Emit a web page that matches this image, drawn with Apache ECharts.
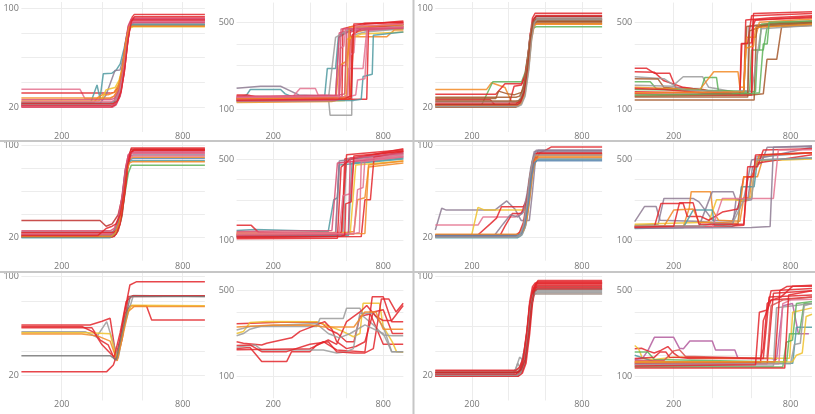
<!DOCTYPE html>
<html><head><meta charset="utf-8">
<script src="https://cdn.jsdelivr.net/npm/echarts@6/dist/echarts.min.js"></script>
<style>html,body{margin:0;padding:0;background:#fff}#c{width:815px;height:414px}</style>
</head><body><div id="c"></div>
<script>
// ---- tick labels ----
const xTickLabels = [200, 800];
const yTickLabelsLow = [20, 100];
const yTickLabelsHigh = [100, 500];

// ---- row 1 ----
const r1a = [
 [[0,21],[450,21],[470,23],[490,30],[510,48],[525,70],[540,88],[550,93],[560,95],[910,95]],
 [[0,34.6],[290,34.6],[315,27],[440,27],[460,29],[480,34],[500,45],[515,62],[530,80],[545,87],[560,88],[910,88]],
 [[0,31.4],[440,31.4],[460,32],[480,36],[500,47],[515,65],[530,82],[545,90],[560,91],[910,91]],
 [[0,22],[340,22],[375,38],[390,27],[406,47],[449,47.5],[470,50],[490,55],[510,68],[525,80],[540,86],[555,87],[910,87]],
 [[0,23],[390,23],[420,30],[464,49.6],[489,50],[505,60],[520,74],[535,85],[550,89],[910,89]],
 [[0,24],[360,24],[380,28],[400,30],[430,30],[460,32],[480,38],[500,50],[518,70],[535,84],[555,86],[910,86]],
 [[0,25],[380,25],[400,27],[420,34],[440,35],[465,36],[485,42],[505,55],[520,72],[538,84],[555,85],[910,85]],
 [[0,20],[450,20],[470,22],[490,29],[510,48],[525,70],[540,87],[555,92],[910,92]],
 [[0,20.5],[445,20.5],[465,22],[485,28],[505,45],[520,66],[535,84],[550,90],[910,90]],
 [[0,21],[440,21],[460,23],[480,30],[500,47],[515,68],[530,84],[545,89],[910,89]],
 [[0,21.5],[450,21.5],[470,23],[490,30],[510,50],[525,72],[540,86],[555,88.5],[910,88.5]],
 [[0,22],[440,22],[460,24],[480,31],[500,49],[515,70],[530,85],[545,90.5],[910,90.5]],
 [[0,22.5],[445,22.5],[465,24],[485,31],[505,50],[520,71],[535,84],[550,87],[910,87]],
 [[0,23.5],[440,23.5],[460,25],[480,32],[500,50],[517,72],[532,84],[548,86.5],[910,86.5]],
 [[0,24.5],[445,24.5],[465,26],[485,33],[505,52],[520,73],[535,86],[550,89.5],[910,89.5]],
 [[0,26],[440,26],[460,27],[480,33],[500,50],[515,71],[530,86],[545,91.5],[910,91.5]],
 [[0,27.5],[440,27.5],[460,29],[480,35],[500,52],[518,73],[535,85],[550,85.5],[910,85.5]],
 [[0,23],[455,23],[475,25],[495,33],[515,55],[530,76],[545,89],[560,93],[910,93]]
];
const r1b = [
 [[0,196],[130,205],[240,205],[290,185],[340,165],[480,160],[540,158],[560,440],[640,470],[910,490]],
 [[0,150],[55,165],[75,190],[240,190],[265,170],[300,158],[480,155],[495,287],[540,287],[555,430],[620,460],[910,470]],
 [[0,145],[300,150],[346,195],[430,195],[445,165],[560,160],[575,300],[600,300],[610,450],[700,480],[910,485]],
 [[0,140],[450,142],[500,160],[510,72],[628,72],[632,440],[700,455],[910,470]],
 [[0,165],[60,165],[100,157],[500,155],[615,155],[620,464],[700,490],[910,505]],
 [[0,160],[550,150],[575,150],[580,470],[700,495],[910,500]],
 [[0,130],[520,135],[540,140],[560,300],[600,320],[620,433],[820,433],[860,464],[910,464]],
 [[0,134],[560,138],[590,140],[600,420],[680,445],[910,455]],
 [[0,148],[580,150],[600,150],[610,287],[690,287],[710,460],[910,475]],
 [[0,155],[520,160],[540,160],[560,450],[650,475],[910,480]],
 [[0,142],[690,145],[710,145],[720,480],[910,495]],
 [[0,138],[640,140],[680,145],[690,250],[740,260],[746,440],[910,455]],
 [[0,152],[600,155],[650,165],[660,234],[700,240],[715,470],[910,480]],
 [[0,145],[620,148],[640,450],[720,470],[910,480]],
 [[0,135],[500,140],[540,430],[620,470],[910,485]],
 [[0,150],[600,152],[625,160],[630,440],[680,470],[910,490]],
 [[0,158],[560,165],[590,170],[600,455],[700,465],[910,475]],
 [[0,143],[530,146],[555,150],[565,380],[585,390],[595,470],[910,478]],
 [[0,147],[580,152],[600,160],[615,478],[910,488]],
 [[0,137],[540,140],[560,145],[570,468],[910,472]],
 [[0,153],[590,158],[605,165],[620,350],[640,360],[650,482],[910,492]],
 [[0,141],[610,146],[625,150],[640,492],[910,500]]
];
const r1c = [
 [[0,21],[440,21],[460,23],[480,30],[500,50],[515,75],[530,92],[545,96],[910,96]],
 [[0,34.4],[280,34.4],[307,39.8],[380,36],[417,24],[450,24],[470,27],[490,36],[505,55],[520,76],[535,86],[550,87],[910,87]],
 [[0,22],[253,22],[314,40.6],[471,40.6],[490,48],[505,62],[520,78],[535,84],[550,85],[910,85]],
 [[0,30.4],[330,30.4],[380,39],[471,39],[490,46],[505,62],[520,80],[535,89],[550,91],[910,91]],
 [[0,26],[300,26],[330,21],[400,21],[430,37],[470,38],[490,45],[505,60],[520,80],[535,90],[550,93],[910,93]],
 [[0,27],[330,27],[345,33],[390,31],[430,30],[470,32],[490,42],[505,58],[520,78],[535,88],[550,89],[910,89]],
 [[0,20],[440,20],[460,22],[480,29],[500,48],[515,72],[530,88],[545,90],[910,90]],
 [[0,21],[445,21],[465,23],[485,30],[505,50],[520,74],[535,89],[550,92],[910,92]],
 [[0,22.5],[440,22.5],[460,25],[480,33],[500,52],[515,74],[530,87],[545,88],[910,88]],
 [[0,23.5],[445,23.5],[465,25],[485,32],[505,52],[520,75],[535,90],[550,94],[910,94]],
 [[0,24.5],[440,24.5],[460,26],[480,34],[500,53],[515,75],[530,88],[545,90.5],[910,90.5]],
 [[0,25],[450,25],[470,27],[490,35],[510,56],[525,78],[540,88],[555,89.5],[910,89.5]],
 [[0,21.5],[450,21.5],[470,23],[490,31],[510,52],[525,75],[540,86],[555,87.5],[910,87.5]],
 [[0,22],[445,22],[465,24],[485,32],[505,52],[520,76],[535,91],[550,93.5],[910,93.5]],
 [[0,28],[440,28],[460,29],[480,35],[500,52],[518,75],[533,88],[548,91],[910,91]],
 [[0,20.5],[450,20.5],[470,22],[490,29],[510,50],[525,74],[540,88],[555,91],[910,91]]
];
const r1d = [
 [[0,288],[60,288],[100,265],[180,265],[210,200],[350,190],[400,180],[540,175],[550,400],[600,405],[610,540],[910,548]],
 [[0,272],[100,270],[150,230],[250,200],[400,180],[520,178],[560,180],[570,510],[700,520],[910,530]],
 [[0,249],[150,240],[200,210],[249,249],[348,249],[380,200],[560,170],[580,170],[585,480],[910,500]],
 [[0,240],[120,238],[150,200],[300,185],[560,180],[575,480],[700,495],[910,505]],
 [[0,226],[80,226],[110,195],[340,190],[360,245],[420,245],[430,180],[560,175],[590,180],[600,372],[640,372],[650,490],[910,500]],
 [[0,200],[300,190],[330,185],[406,272],[530,272],[540,200],[560,200],[575,430],[620,430],[640,500],[910,515]],
 [[0,142],[613,142],[625,479],[700,490],[910,500]],
 [[0,160],[600,165],[660,170],[679,329],[729,329],[754,479],[910,485]],
 [[0,180],[300,175],[500,170],[540,168],[547,402],[580,402],[600,530],[910,540]],
 [[0,190],[400,185],[560,182],[620,180],[630,372],[660,372],[680,480],[910,490]],
 [[0,210],[200,205],[260,188],[500,178],[560,185],[600,180],[650,470],[910,485]],
 [[0,170],[560,165],[600,165],[610,510],[910,520]],
 [[0,155],[580,155],[590,460],[650,480],[910,495]],
 [[0,195],[150,190],[350,175],[580,170],[600,170],[605,480],[620,510],[910,525]],
 [[0,175],[450,178],[560,180],[570,380],[610,390],[620,475],[910,490]],
 [[0,165],[500,170],[600,172],[640,175],[660,400],[680,400],[690,500],[910,505]]
];

// ---- row 2 ----
const r2a = [
 [[0,35],[390,35],[420,30],[450,32],[480,40],[500,55],[515,75],[530,90],[545,97],[910,97]],
 [[0,21],[460,21],[480,26],[500,40],[515,65],[530,88],[545,98],[910,98]],
 [[0,22],[440,22],[460,25],[480,34],[500,55],[515,78],[530,90],[545,93],[910,93]],
 [[0,23],[450,23],[470,26],[490,36],[510,58],[525,80],[540,88],[555,89],[910,89]],
 [[0,24],[445,24],[465,27],[485,38],[505,60],[520,80],[535,88],[550,90],[910,90]],
 [[0,21.5],[455,21.5],[475,25],[495,36],[515,60],[530,76],[545,83],[910,83]],
 [[0,22.5],[440,22.5],[460,25],[480,34],[500,56],[515,79],[530,92],[545,95],[910,95]],
 [[0,25],[450,25],[470,28],[490,38],[510,60],[525,81],[540,91],[555,92],[910,92]],
 [[0,20.5],[450,20.5],[470,23],[490,32],[510,55],[525,80],[540,93],[555,96],[910,96]],
 [[0,23.5],[445,23.5],[465,26],[485,35],[505,57],[520,80],[535,89],[550,91],[910,91]],
 [[0,20],[440,20],[460,23],[480,32],[500,54],[515,77],[530,86],[545,87],[910,87]],
 [[0,24.5],[455,24.5],[475,27],[495,38],[515,62],[530,84],[545,94],[560,97],[910,97]],
 [[0,21],[445,21],[465,24],[485,33],[505,55],[520,76],[535,85],[550,86],[910,86]],
 [[0,26],[440,26],[460,28],[480,37],[500,57],[515,79],[530,92],[545,94],[910,94]],
 [[0,22],[380,22],[420,28],[450,30],[470,32],[490,40],[510,60],[525,82],[540,94],[555,96],[910,96]]
];
const r2b = [
 [[0,130],[520,135],[540,140],[560,480],[910,520]],
 [[0,125],[560,128],[575,130],[590,500],[910,540]],
 [[0,150],[100,155],[300,150],[500,145],[530,300],[550,310],[560,470],[910,500]],
 [[0,140],[600,140],[640,145],[660,300],[700,310],[720,460],[910,480]],
 [[0,120],[580,125],[600,500],[910,520]],
 [[0,118],[540,120],[560,490],[910,530]],
 [[0,135],[620,140],[650,470],[910,490]],
 [[0,175],[80,175],[120,140],[570,138],[600,520],[910,545]],
 [[0,128],[640,132],[660,350],[690,360],[700,500],[910,525]],
 [[0,122],[610,125],[630,480],[910,505]],
 [[0,115],[680,120],[700,300],[730,300],[750,510],[910,535]],
 [[0,138],[560,140],[580,320],[620,330],[640,495],[910,515]],
 [[0,132],[700,135],[720,470],[910,490]],
 [[0,145],[520,150],[550,480],[910,510]],
 [[0,110],[550,112],[570,460],[620,500],[910,550]],
 [[0,127],[590,130],[610,135],[620,505],[910,528]],
 [[0,133],[650,136],[670,140],[680,485],[910,512]],
 [[0,119],[570,122],[590,126],[595,280],[625,290],[640,515],[910,538]]
];
const r2c = [
 [[0,26.7],[35,45.6],[60,44],[325,44],[390,52],[434,45],[468,35],[513,35],[530,60],[545,85],[560,96],[910,96]],
 [[0,31],[233,31],[260,38],[434,38],[470,42],[500,55],[520,75],[540,88],[560,92],[910,92]],
 [[0,22],[198,22],[233,46.4],[270,44],[489,44],[505,55],[520,72],[540,88],[560,93],[910,93]],
 [[0,21],[223,21],[300,32],[334,37],[361,47],[480,47],[500,52],[520,70],[540,85],[570,94],[600,96],[634,99],[910,99]],
 [[0,21],[350,21],[380,30],[420,41],[470,41],[495,50],[515,68],[535,86],[555,94],[910,94]],
 [[0,21.5],[320,21.5],[370,32],[410,40],[450,38],[480,42],[500,58],[520,80],[540,95],[910,95]],
 [[0,22.5],[440,22.5],[460,24],[480,30],[500,48],[515,70],[530,85],[545,91],[910,91]],
 [[0,20],[450,20],[470,22],[490,29],[510,50],[525,72],[540,84],[555,88],[910,88]],
 [[0,21],[455,21],[475,23],[495,31],[515,53],[530,75],[545,86],[560,89],[910,89]],
 [[0,22],[440,22],[460,25],[480,33],[500,52],[515,72],[530,86],[545,93],[910,93]],
 [[0,23],[460,23],[480,26],[500,36],[518,58],[533,78],[548,88],[565,90],[910,90]],
 [[0,21],[445,21],[465,23],[485,31],[505,52],[520,75],[535,90],[550,96],[910,96]],
 [[0,22],[450,22],[470,24],[490,32],[510,53],[525,74],[540,85],[555,87],[910,87]],
 [[0,20.5],[440,20.5],[460,22],[480,30],[500,50],[515,73],[530,87],[545,92],[910,92]]
];
const r2d = [
 [[0,193],[50,267],[110,267],[130,200],[300,195],[400,190],[505,185],[520,300],[560,305],[600,495],[910,557]],
 [[0,175],[120,180],[150,307],[300,307],[330,290],[400,200],[500,195],[540,290],[600,300],[620,510],[910,530]],
 [[0,170],[250,170],[280,260],[290,340],[389,340],[400,250],[430,200],[540,195],[560,310],[590,310],[600,413],[630,413],[663,519],[910,530]],
 [[0,165],[330,170],[398,340],[505,340],[520,300],[580,300],[605,462],[650,480],[680,557],[910,560]],
 [[0,180],[380,190],[420,300],[514,300],[540,295],[580,300],[600,320],[620,490],[910,500]],
 [[0,165],[100,165],[135,282],[249,282],[270,218],[340,218],[380,200],[450,240],[530,255],[560,413],[600,413],[630,480],[910,520]],
 [[0,160],[250,165],[300,250],[398,250],[410,175],[500,170],[530,180],[547,364],[613,364],[630,495],[910,505]],
 [[0,170],[150,170],[200,250],[300,255],[330,190],[530,185],[560,413],[605,413],[640,519],[910,530]],
 [[0,168],[500,172],[560,175],[580,462],[630,462],[660,544],[910,550]],
 [[0,163],[400,167],[450,307],[712,307],[737,544],[910,545]],
 [[0,161],[600,165],[695,169],[712,557],[910,565]],
 [[0,172],[350,172],[400,185],[500,180],[560,300],[600,305],[620,495],[910,505]],
 [[0,166],[200,170],[230,285],[300,285],[330,180],[560,180],[580,413],[610,413],[620,519],[910,530]]
];

// ---- row 3 ----
const r3a = [
 [[0,23.3],[423,23.3],[456,28.7],[480,40],[510,70],[538,93.3],[572,96],[910,96]],
 [[0,61],[340,61],[400,64],[440,66.4],[472,32.7],[500,50],[530,84],[910,84.4]],
 [[0,58.8],[349,58.8],[391,48.8],[430,45],[464,32.7],[490,50],[515,70],[540,76.6],[620,76.6],[646,65],[910,65]],
 [[0,55.6],[316,55.6],[373,51.3],[423,63.7],[480,34],[510,60],[555,84.8],[910,83.9]],
 [[0,54.8],[330,54.8],[440,54],[470,35],[490,45],[520,70],[548,77],[910,76.6]],
 [[0,53.7],[300,53.7],[380,52],[440,48],[475,32],[500,50],[530,72],[560,76],[910,76]],
 [[0,59.8],[300,59.8],[360,55],[400,45],[460,35],[490,55],[520,80],[550,84.6],[910,84.6]],
 [[0,36.2],[440,36.2],[470,32.7],[500,55],[540,84],[910,84]]
];
const r3b = [
 [[0,345],[160,350],[240,352],[437,352],[470,345],[500,320],[550,300],[600,262],[640,262],[673,380],[730,390],[760,330],[800,250],[846,250],[909,250]],
 [[0,300],[37,309],[73,351],[164,356],[437,355],[582,309],[637,285],[673,300],[690,440],[780,440],[800,332],[850,260],[873,215],[909,213]],
 [[0,316],[37,324],[73,332],[437,332],[455,370],[582,370],[600,417],[673,417],[690,380],[746,340],[800,293],[850,290],[909,290]],
 [[0,262],[37,255],[137,247],[164,255],[300,280],[346,310],[437,340],[480,355],[520,320],[546,262],[600,230],[650,240],[700,262],[746,400],[800,410],[850,300],[909,300]],
 [[0,231],[73,235],[137,170],[273,170],[300,216],[400,216],[437,247],[473,262],[546,224],[600,220],[700,215],[740,470],[800,470],[846,355],[909,355]],
 [[0,237],[100,247],[137,224],[400,224],[473,224],[546,210],[600,216],[637,230],[673,394],[746,394],[800,332],[846,216],[909,216]],
 [[0,245],[73,247],[137,216],[273,216],[400,250],[500,262],[546,216],[640,210],[700,210],[746,230],[790,460],[830,460],[870,400],[909,440]],
 [[0,225],[400,230],[450,250],[500,270],[546,250],[600,355],[673,400],[710,430],[760,380],[800,360],[846,360],[909,430]],
 [[0,290],[37,300],[73,320],[137,335],[250,340],[400,345],[437,345],[500,300],[560,280],[620,300],[700,340],[800,300],[846,216],[909,216]],
 [[0,330],[100,335],[200,340],[300,338],[400,340],[480,330],[550,330],[640,330],[700,400],[760,400],[800,320],[909,320]]
];
const r3c = [
 [[0,19.5],[450,19.5],[470,22],[490,30],[510,52],[525,75],[540,90],[555,96],[910,96]],
 [[0,20],[445,20],[465,23],[485,31],[505,53],[520,76],[535,90],[550,94],[910,94]],
 [[0,21],[440,21],[460,24],[480,32],[500,54],[515,77],[530,88],[545,90],[910,90]],
 [[0,20.5],[450,20.5],[470,23],[490,31],[510,54],[525,77],[540,89],[555,92],[910,92]],
 [[0,22],[430,22],[450,30],[465,26],[480,38],[495,36],[510,58],[525,78],[540,86],[555,87],[910,87]],
 [[0,22.5],[445,22.5],[465,25],[485,33],[505,55],[520,78],[535,91],[550,95],[910,95]],
 [[0,21.5],[420,21.5],[440,26],[460,35],[475,33],[490,45],[505,62],[520,80],[535,86],[550,88],[910,88]],
 [[0,23],[450,23],[470,25],[490,33],[510,56],[525,78],[540,90],[555,93],[910,93]],
 [[0,24],[440,24],[460,26],[480,34],[500,55],[515,78],[530,85],[545,86],[910,86]],
 [[0,19.8],[455,19.8],[475,22],[495,30],[515,54],[530,78],[545,91],[560,97],[910,97]],
 [[0,21.2],[440,21.2],[460,24],[480,33],[500,55],[515,77],[530,88],[545,91],[910,91]],
 [[0,20.2],[445,20.2],[465,22],[485,30],[505,52],[520,75],[535,85],[550,89],[910,89]],
 [[0,22.8],[450,22.8],[470,25],[490,33],[510,55],[525,78],[540,88],[555,90],[910,90]],
 [[0,24.5],[440,24.5],[460,27],[480,35],[500,57],[515,80],[530,92],[545,95],[910,95]]
];
const r3d = [
 [[0,180],[40,185],[67,220],[101,283],[200,283],[230,232],[250,230],[283,266],[398,266],[415,224],[514,224],[530,186],[700,185],[728,180],[760,430],[810,440],[840,300],[894,300]],
 [[0,230],[35,232],[67,220],[100,210],[134,222],[170,240],[200,210],[230,190],[283,185],[646,185],[660,230],[680,440],[700,456],[750,470],[810,520],[910,520]],
 [[0,245],[20,230],[40,185],[101,180],[200,190],[283,190],[500,186],[795,186],[811,400],[910,420]],
 [[0,215],[67,215],[101,180],[700,170],[780,170],[795,300],[845,300],[869,440],[910,440]],
 [[0,200],[100,170],[750,162],[811,162],[830,330],[910,330]],
 [[0,165],[646,165],[660,360],[700,456],[910,470]],
 [[0,160],[680,160],[712,488],[910,500]],
 [[0,175],[150,175],[200,220],[230,225],[260,195],[679,185],[700,430],[760,456],[910,470]],
 [[0,150],[712,150],[728,420],[910,440]],
 [[0,170],[720,170],[745,500],[780,519],[910,525]],
 [[0,155],[740,160],[760,440],[800,456],[910,460]],
 [[0,145],[760,145],[778,260],[810,270],[830,440],[910,450]],
 [[0,140],[770,140],[790,480],[910,500]],
 [[0,158],[800,160],[820,250],[850,255],[870,430],[910,440]],
 [[0,168],[810,170],[830,200],[860,210],[880,380],[910,390]],
 [[0,150],[620,155],[640,400],[680,410],[700,500],[910,510]],
 [[0,185],[100,190],[130,215],[160,215],[180,190],[660,185],[690,470],[910,480]]
];

// ---- colours (styles) ----
const RED='#e3262b', PINK='#e4728f', ROSE='#d94f72', TEAL='#4f9aa1', PURP='#8e7b93', ORNG='#f28a24',
      YELL='#efc12b', GRAY='#9b9b9b', BRWN='#a5582c', GRN='#5eb35a', DRED='#c0302e', MAG='#b35c9d', BLUE='#5b86b0';
const r1aColors=[RED,PINK,RED,TEAL,PURP,ORNG,YELL,ROSE,RED,PINK,ROSE,RED,GRAY,TEAL,PINK,ROSE,ORNG,RED];
const r1bColors=[PURP,TEAL,PINK,GRAY,RED,RED,ORNG,YELL,PINK,ROSE,RED,TEAL,PINK,ORNG,GRAY,RED,ROSE,PINK,ORNG,ROSE,PINK,RED];
const r1cColors=[RED,ORNG,GRN,RED,RED,BRWN,BRWN,GRAY,BRWN,RED,GRAY,BRWN,ORNG,DRED,BRWN,GRAY];
const r1dColors=[RED,RED,GRAY,BRWN,GRN,ORNG,BRWN,BRWN,RED,GRN,GRAY,RED,BRWN,RED,ORNG,GRN];
const r2aColors=[DRED,RED,PINK,BLUE,ORNG,GRN,ROSE,PURP,RED,PINK,TEAL,RED,ORNG,ROSE,RED];
const r2bColors=[PINK,RED,TEAL,ORNG,GRAY,PURP,YELL,RED,PINK,TEAL,RED,PINK,ORNG,ROSE,RED,ROSE,PINK,RED];
const r2cColors=[PURP,PINK,YELL,RED,RED,PURP,ORNG,TEAL,GRAY,RED,ORNG,PURP,BLUE,GRAY];
const r2dColors=[PURP,PURP,ORNG,PURP,YELL,RED,TEAL,ORNG,RED,PINK,PURP,GRAY,RED];
const r3aColors=[RED,RED,RED,GRAY,YELL,ORNG,RED,'#777777'];
const r3bColors=[RED,YELL,GRAY,RED,RED,GRAY,RED,RED,GRAY,ORNG];
const r3cColors=[RED,RED,GRAY,DRED,GRAY,RED,GRAY,RED,'#9e8b80',RED,RED,GRAY,DRED,RED];
const r3dColors=[MAG,RED,YELL,GRN,TEAL,RED,RED,'#d9534f',GRAY,RED,PINK,GRN,RED,GRAY,YELL,RED,RED];

// ---- layout ----
const WA=183.5, WB=166.8, XL=[21.4,236.6,435.3,634.7];
const panels = [
 {d:r1a,c:r1aColors,l:XL[0],t:2,w:WA,h:130,ym:105,iv:20,yt:yTickLabelsLow,ly:136},
 {d:r1b,c:r1bColors,l:XL[1],t:2.6,w:WB,h:128.2,ym:590,iv:100,yt:yTickLabelsHigh,ly:136},
 {d:r1c,c:r1cColors,l:XL[2],t:2,w:WB,h:130,ym:105,iv:20,yt:yTickLabelsLow,ly:136},
 {d:r1d,c:r1dColors,l:XL[3],t:2.6,w:WA,h:128.2,ym:590,iv:100,yt:yTickLabelsHigh,ly:136},
 {d:r2a,c:r2aColors,l:XL[0],t:142.3,w:WA,h:118.4,ym:103,iv:20,yt:yTickLabelsLow,ly:266},
 {d:r2b,c:r2bColors,l:XL[1],t:142.6,w:WB,h:118.5,ym:580,iv:100,yt:yTickLabelsHigh,ly:266},
 {d:r2c,c:r2cColors,l:XL[2],t:142.3,w:WB,h:118.4,ym:103,iv:20,yt:yTickLabelsLow,ly:266},
 {d:r2d,c:r2dColors,l:XL[3],t:142.6,w:WA,h:118.5,ym:580,iv:100,yt:yTickLabelsHigh,ly:266},
 {d:r3a,c:r3aColors,l:XL[0],t:270.5,w:WA,h:130,ym:105,iv:20,yt:yTickLabelsLow,ly:404},
 {d:r3b,c:r3bColors,l:XL[1],t:270.9,w:WB,h:127.4,ym:590,iv:100,yt:yTickLabelsHigh,ly:404},
 {d:r3c,c:r3cColors,l:XL[2],t:270.5,w:WB,h:130,ym:105,iv:20,yt:yTickLabelsLow,ly:404},
 {d:r3d,c:r3dColors,l:XL[3],t:271.3,w:WA,h:126.9,ym:590,iv:100,yt:yTickLabelsHigh,ly:404}
];

const FONT = '"Open Sans", "Noto Sans", sans-serif';
const grids=[], xAxes=[], yAxes=[], series=[];
const split = {show:true, showMinLine:false, showMaxLine:false, lineStyle:{color:'#ececec', width:1}};
panels.forEach((p,i)=>{
  grids.push({left:p.l, top:p.t, width:p.w, height:p.h, containLabel:false});
  xAxes.push({type:'value', gridIndex:i, min:0, max:910, interval:200,
    axisLine:{show:false}, axisTick:{show:false}, splitLine:split,
    axisLabel:{show:true, margin:p.ly-(p.t+p.h), verticalAlign:'middle', fontSize:9, color:'#777', fontFamily:FONT,
      showMinLabel:true, showMaxLabel:true, hideOverlap:false,
      formatter:v=>xTickLabels.includes(v)?String(v):''}});
  yAxes.push({type:'value', gridIndex:i, min:0, max:p.ym, interval:p.iv,
    axisLine:{show:false}, axisTick:{show:false}, splitLine:split,
    axisLabel:{show:true, margin:2.5, fontSize:9, color:'#777', fontFamily:FONT, hideOverlap:false,
      formatter:v=>p.yt.includes(v)?String(v):''}});
  p.d.forEach((line,j)=>{
    series.push({type:'line', xAxisIndex:i, yAxisIndex:i, data:line, symbol:'none', showSymbol:false,
      silent:true, animation:false, lineStyle:{width:1.5, color:p.c[j % p.c.length], opacity:0.85}});
  });
});

const chart = echarts.init(document.getElementById('c'), null, {renderer:'canvas'});
chart.setOption({
  animation:false, backgroundColor:'#fff',
  grid:grids, xAxis:xAxes, yAxis:yAxes, series:series,
  graphic:[
    {type:'rect', shape:{x:412.5,y:0,width:2,height:414}, style:{fill:'#c6c6c6'}, z:100},
    {type:'rect', shape:{x:0,y:140,width:815,height:2}, style:{fill:'#c6c6c6'}, z:100},
    {type:'rect', shape:{x:0,y:271,width:815,height:2}, style:{fill:'#c6c6c6'}, z:100}
  ]
});
</script></body></html>
